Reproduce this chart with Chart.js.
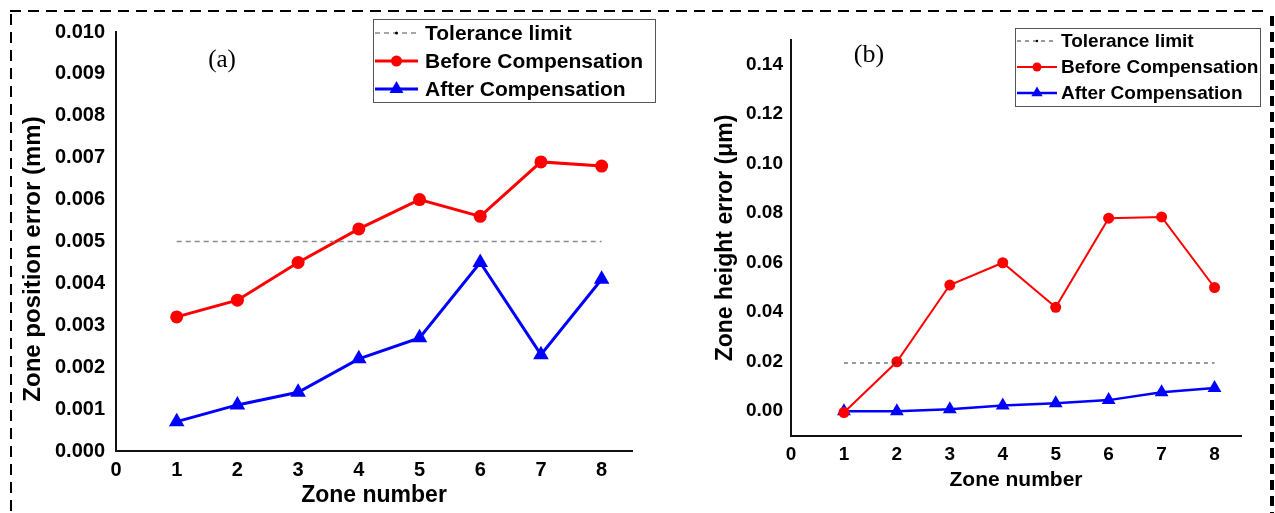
<!DOCTYPE html>
<html>
<head>
<meta charset="utf-8">
<script src="https://cdn.jsdelivr.net/npm/chart.js@4.4.1/dist/chart.umd.min.js"></script>
<style>
  html, body { margin: 0; padding: 0; background: #fff; }
  #page { position: relative; width: 1275px; height: 513px; overflow: hidden; }
  #page canvas { position: absolute; top: 0; }
</style>
</head>
<body>
<div id="page">
  <canvas id="frame" width="1275" height="513" style="left:0"></canvas>
  <canvas id="chartA" width="665" height="513" style="left:0"></canvas>
  <canvas id="chartB" width="610" height="513" style="left:665px"></canvas>
</div>
<script>
// zones and x axis
const zones = [1, 2, 3, 4, 5, 6, 7, 8];
const xTicks = [0, 1, 2, 3, 4, 5, 6, 7, 8];
const toleranceZones = [1, 8];

// (a) zone position error, mm
const posBefore = [0.0032, 0.0036, 0.0045, 0.0053, 0.0060, 0.0056, 0.0069, 0.0068];
const posAfter = [0.0007, 0.0011, 0.0014, 0.0022, 0.0027, 0.0045, 0.0023, 0.0041];
const posTolerance = 0.005;
const posTicks = [0, 0.001, 0.002, 0.003, 0.004, 0.005, 0.006, 0.007, 0.008, 0.009, 0.010];
const posTickLabels = ['0.000', '0.001', '0.002', '0.003', '0.004', '0.005', '0.006', '0.007', '0.008', '0.009', '0.010'];

// (b) zone height error, um
const heightBefore = [-0.0005, 0.020, 0.051, 0.060, 0.042, 0.078, 0.0785, 0.050];
const heightAfter = [0.0000, 0.0000, 0.0008, 0.0023, 0.0032, 0.0045, 0.0077, 0.0094];
const heightTolerance = 0.0195;
const heightTicks = [0, 0.02, 0.04, 0.06, 0.08, 0.10, 0.12, 0.14];
const heightTickLabels = ['0.00', '0.02', '0.04', '0.06', '0.08', '0.10', '0.12', '0.14'];

const seriesNames = ['Tolerance limit', 'Before Compensation', 'After Compensation'];

const SANS = "'Liberation Sans', Arial, sans-serif";
const SERIF = "'Liberation Serif', 'Times New Roman', serif";

// dashed frame around both panels
const fr = document.getElementById('frame').getContext('2d');
fr.strokeStyle = '#000';
fr.lineWidth = 2;
fr.setLineDash([11, 7]);
fr.beginPath();
fr.moveTo(10, 11); fr.lineTo(1270, 11);
fr.moveTo(11, 14); fr.lineTo(11, 513);
fr.stroke();
fr.lineWidth = 4;
fr.setLineDash([10, 6]);
fr.beginPath();
fr.moveTo(1272, 16); fr.lineTo(1272, 513);
fr.stroke();

function marker(ctx, style, x, y, r) {
  ctx.beginPath();
  if (style === 'triangle') {
    ctx.moveTo(x, y - r);
    ctx.lineTo(x + r * 0.866, y + r * 0.5);
    ctx.lineTo(x - r * 0.866, y + r * 0.5);
    ctx.closePath();
  } else {
    ctx.arc(x, y, r, 0, Math.PI * 2);
  }
  ctx.fill();
}

// panel letter, rotated y title and boxed legend
const panelDecor = {
  id: 'panelDecor',
  afterDatasetsDraw(chart, args, o) {
    const ctx = chart.ctx;
    ctx.save();
    ctx.fillStyle = '#000';
    ctx.font = o.letterFont;
    ctx.textAlign = 'center';
    ctx.textBaseline = 'middle';
    ctx.fillText(o.letter, o.letterX, o.letterY);

    const t = o.yTitle;
    ctx.save();
    ctx.translate(t.x, t.y);
    ctx.rotate(-Math.PI / 2);
    ctx.font = t.font;
    ctx.fillText(t.text, 0, 0);
    ctx.restore();

    const b = o.box;
    ctx.fillStyle = '#fff';
    ctx.fillRect(b.x, b.y, b.w, b.h);
    ctx.strokeStyle = '#555';
    ctx.lineWidth = 1;
    ctx.strokeRect(b.x + 0.5, b.y + 0.5, b.w, b.h);

    chart.data.datasets.forEach((ds, i) => {
      const y = b.rows[i];
      const x0 = b.x + 2, x1 = b.x + b.sample;
      ctx.save();
      ctx.strokeStyle = ds.borderColor;
      ctx.lineWidth = ds.borderWidth;
      ctx.setLineDash(ds.borderDash || []);
      ctx.beginPath();
      ctx.moveTo(x0, y); ctx.lineTo(x1, y);
      ctx.stroke();
      ctx.restore();
      ctx.fillStyle = i === 0 ? '#000' : ds.borderColor;
      marker(ctx, ds.pointStyle, (x0 + x1) / 2, y, o.legendRadius[i]);
      ctx.fillStyle = '#000';
      ctx.font = o.legendFont;
      ctx.textAlign = 'left';
      ctx.textBaseline = 'middle';
      ctx.fillText(ds.label, b.x + b.textX, y + 1);
    });
    ctx.restore();
  }
};

function pts(xs, ys) {
  return xs.map((x, i) => ({ x: x, y: ys[i] }));
}

function makeChart(id, cfg) {
  return new Chart(document.getElementById(id), {
    type: 'line',
    data: {
      datasets: [
        {
          label: seriesNames[0],
          data: pts(toleranceZones, [cfg.tolerance, cfg.tolerance]),
          borderColor: cfg.tolColor,
          borderWidth: cfg.tolWidth,
          borderDash: cfg.tolDash,
          pointRadius: 0,
          pointStyle: 'circle'
        },
        {
          label: seriesNames[1],
          data: pts(zones, cfg.before),
          borderColor: '#ff0000',
          backgroundColor: '#ff0000',
          borderWidth: cfg.redWidth,
          pointStyle: 'circle',
          pointRadius: cfg.circleR,
          pointBorderWidth: 0,
          pointBackgroundColor: '#ff0000'
        },
        {
          label: seriesNames[2],
          data: pts(zones, cfg.after),
          borderColor: '#0000ff',
          backgroundColor: '#0000ff',
          borderWidth: cfg.blueWidth,
          pointStyle: 'triangle',
          pointRadius: cfg.triR,
          pointBorderWidth: 0,
          pointBackgroundColor: '#0000ff'
        }
      ]
    },
    options: {
      responsive: false,
      animation: false,
      events: [],
      layout: { padding: cfg.padding },
      elements: { line: { tension: 0 } },
      scales: {
        x: {
          type: 'linear',
          min: 0,
          max: 8.5,
          grid: { display: false, drawTicks: false },
          border: { display: true, color: '#111', width: 2 },
          afterBuildTicks: s => { s.ticks = xTicks.map(v => ({ value: v })); },
          afterFit: s => { s.height = cfg.xHeight; },
          ticks: {
            padding: cfg.xTickPad,
            maxRotation: 0,
            color: '#000',
            font: { family: SANS, size: cfg.tickSize, weight: 'bold' },
            callback: v => String(v)
          },
          title: {
            display: true,
            text: 'Zone number',
            color: '#000',
            padding: 0,
            font: { family: SANS, size: cfg.xTitleSize, weight: 'bold' }
          }
        },
        y: {
          min: cfg.yMin,
          max: cfg.yMax,
          grid: { display: false, drawTicks: false },
          border: { display: true, color: '#111', width: 2 },
          afterBuildTicks: s => { s.ticks = cfg.yTicks.map(v => ({ value: v })); },
          afterFit: s => { s.width = cfg.yWidth; },
          ticks: {
            padding: cfg.yTickPad,
            color: '#000',
            font: { family: SANS, size: cfg.tickSize, weight: 'bold' },
            callback: (v, i) => cfg.yLabels[i]
          }
        }
      },
      plugins: {
        legend: { display: false },
        tooltip: { enabled: false },
        panelDecor: cfg.decor
      }
    },
    plugins: [panelDecor]
  });
}

makeChart('chartA', {
  before: posBefore,
  after: posAfter,
  tolerance: posTolerance,
  tolColor: '#8a8a8a', tolWidth: 1.5, tolDash: [5, 4],
  redWidth: 3, blueWidth: 3, circleR: 6.5, triR: 9,
  padding: { left: 19, top: 32, right: 33, bottom: 4 },
  xHeight: 58, yWidth: 97, xTickPad: 7, yTickPad: 11,
  tickSize: 20, xTitleSize: 23,
  yMin: 0, yMax: 0.010, yTicks: posTicks, yLabels: posTickLabels,
  decor: {
    letter: '(a)', letterX: 222, letterY: 60, letterFont: '25px ' + SERIF,
    yTitle: { text: 'Zone position error (mm)', x: 33, y: 259, font: 'bold 24px ' + SANS },
    legendFont: 'bold 21px ' + SANS, legendRadius: [1.5, 5.5, 8],
    box: { x: 373, y: 19, w: 282, h: 83, sample: 45, textX: 52, rows: [33, 61, 89] }
  }
});

makeChart('chartB', {
  before: heightBefore,
  after: heightAfter,
  tolerance: heightTolerance,
  tolColor: '#333', tolWidth: 1, tolDash: [4, 4],
  redWidth: 2, blueWidth: 2.5, circleR: 5.5, triR: 8,
  padding: { left: 47, top: 40, right: 34, bottom: 20 },
  xHeight: 57, yWidth: 79, xTickPad: 7, yTickPad: 8,
  tickSize: 19, xTitleSize: 21,
  yMin: -0.01, yMax: 0.15, yTicks: heightTicks, yLabels: heightTickLabels,
  decor: {
    letter: '(b)', letterX: 204, letterY: 55, letterFont: '26px ' + SERIF,
    yTitle: { text: 'Zone height error (\u03bcm)', x: 61, y: 238, font: 'bold 23px ' + SANS },
    legendFont: 'bold 19px ' + SANS, legendRadius: [1.2, 4.5, 6.5],
    box: { x: 350, y: 28, w: 245, h: 78, sample: 42, textX: 46, rows: [41, 67, 93] }
  }
});
</script>
</body>
</html>
